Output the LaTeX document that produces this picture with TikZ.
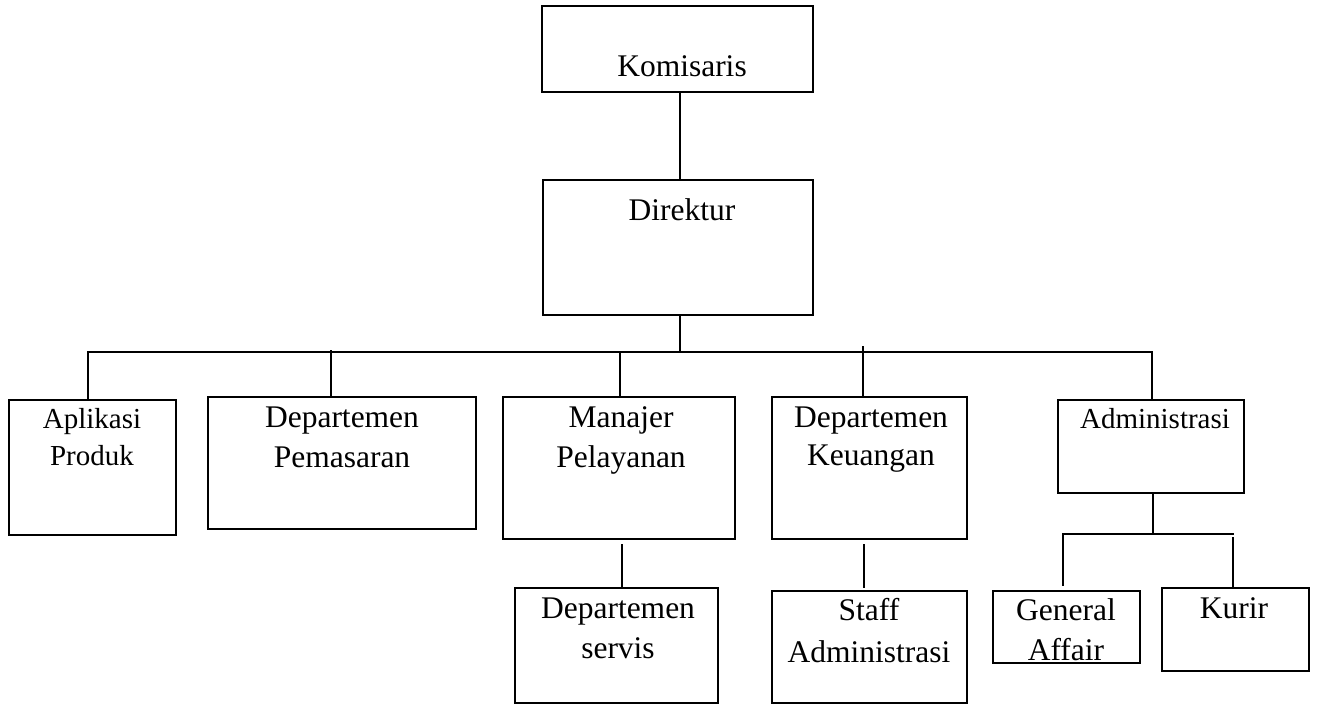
\documentclass[tikz,border=0pt]{standalone}
\usepackage{fontspec}
\setmainfont{Liberation Serif}
\begin{document}
\begin{tikzpicture}[x=1pt,y=-1pt,
  box/.style={draw=black,line width=2.2pt,rectangle,inner sep=0pt,fill=none},
  txt/.style={anchor=base,inner sep=0pt,font=\fontsize{31.5}{36}\selectfont},
  stxt/.style={anchor=base,inner sep=0pt,font=\fontsize{29}{34}\selectfont},
  conn/.style={draw=black,line width=1.8pt}]
\useasboundingbox (0,0) rectangle (1317,704);
% boxes
\node[box,minimum width=271pt,minimum height=86pt]  (kom) at (677.5,49) {};
\node[box,minimum width=270pt,minimum height=135pt] (dir) at (678,247.5) {};
\node[box,minimum width=167pt,minimum height=135pt] (apl) at (92.5,467.5) {};
\node[box,minimum width=268pt,minimum height=132pt] (pem) at (342,463) {};
\node[box,minimum width=232pt,minimum height=142pt] (man) at (619,468) {};
\node[box,minimum width=195pt,minimum height=142pt] (keu) at (869.5,468) {};
\node[box,minimum width=186pt,minimum height=93pt]  (adm) at (1151,446.5) {};
\node[box,minimum width=203pt,minimum height=115pt] (ser) at (616.5,645.5) {};
\node[box,minimum width=195pt,minimum height=112pt] (stf) at (869.5,647) {};
\node[box,minimum width=147pt,minimum height=72pt]  (gen) at (1066.5,627) {};
\node[box,minimum width=147pt,minimum height=83pt]  (kur) at (1235.5,629.5) {};
% texts
\node[txt] (tkom) at (682,76) {Komisaris};
\node[txt] (tdir) at (682,220) {Direktur};
\node[stxt] (tapl1) at (92,428) {Aplikasi};
\node[stxt] (tapl2) at (92,465) {Produk};
\node[txt] (tpem1) at (342,427) {Departemen};
\node[txt] (tpem2) at (342,467) {Pemasaran};
\node[txt] (tman1) at (621,427) {Manajer};
\node[txt] (tman2) at (621,467) {Pelayanan};
\node[txt] (tkeu1) at (871,427) {Departemen};
\node[txt] (tkeu2) at (871,465) {Keuangan};
\node[stxt] (tadm) at (1155,428) {Administrasi};
\node[txt] (tser1) at (618,618) {Departemen};
\node[txt] (tser2) at (618,658) {servis};
\node[txt] (tstf1) at (869,620) {Staff};
\node[txt] (tstf2) at (869,662) {Administrasi};
\node[txt] (tgen1) at (1066,620) {General};
\node[txt] (tgen2) at (1066,660) {Affair};
\node[txt] (tkur) at (1234,618) {Kurir};
% connectors
\coordinate (bus) at (680,352);
\draw[conn] ([xshift=2.5pt]kom.south) -- ([xshift=2pt]dir.north);
\draw[conn] ([xshift=2pt]dir.south) -- ([xshift=2pt]dir.south |- bus);
\draw[conn] ([xshift=-4.5pt]apl.north) |- ([xshift=1pt]adm.north |- bus) -- ([xshift=1pt]adm.north);
\draw[conn] ([xshift=-11pt]pem.north) -- ++(0,-46);
\draw[conn] ([xshift=1pt]man.north) -- ([xshift=1pt]man.north |- bus);
\draw[conn] ([xshift=-6.5pt]keu.north) -- ++(0,-50);
\draw[conn] ([xshift=3pt,yshift=-4pt]man.south) -- ++(0,44);
\draw[conn] ([xshift=-5.5pt,yshift=-4pt]keu.south) -- ++(0,44);
\draw[conn] ([xshift=2pt]adm.south) -- ++(0,41) coordinate (sb);
\coordinate (sbR) at (1234,534);
\draw[conn] ([xshift=-3.5pt,yshift=4pt]gen.north) |- (sbR);
\draw[conn] ([xshift=-2.5pt]kur.north) -- ++(0,-50);
\end{tikzpicture}
\end{document}
